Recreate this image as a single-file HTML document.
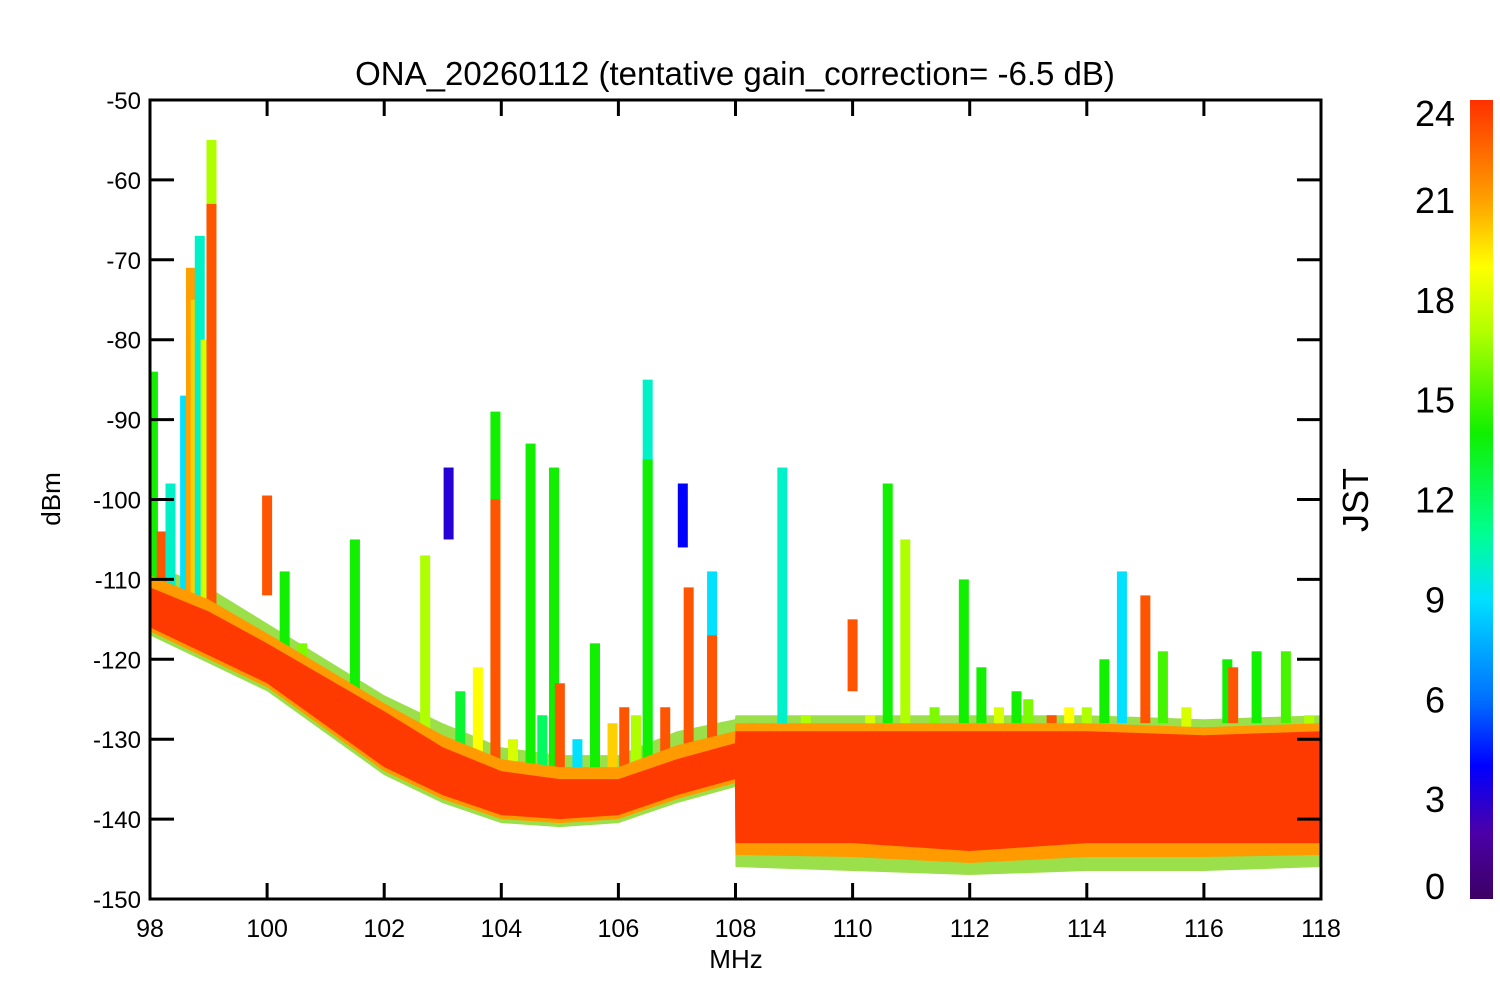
<!DOCTYPE html>
<html><head><meta charset="utf-8"><style>
html,body{margin:0;padding:0;background:#fff}
svg{display:block;font-family:"Liberation Sans",Arial,sans-serif}
</style></head><body>
<svg id="chart" width="1500" height="1000" xmlns="http://www.w3.org/2000/svg"></svg>
<script>
// ---- data ----
const xTicks=[98,100,102,104,106,108,110,112,114,116,118];
const yTicks=[-50,-60,-70,-80,-90,-100,-110,-120,-130,-140,-150];
const cbTicks=[0,3,6,9,12,15,18,21,24];
const bandFreq=[98,99,100,102,103,104,105,106,107,107.99,108,110,112,114,116,118];
const bandTop=[-111,-114,-118,-126.5,-131,-134,-135,-135,-132.5,-130.5,-129,-129,-129,-129,-129.5,-129];
const bandBottom=[-116,-119.5,-123,-133.5,-137,-139.5,-140,-139.5,-137,-135,-143,-143,-144,-143,-143,-143];
const fringeTop=[-108,-111,-115.5,-124.5,-128,-131,-132,-132,-129,-127.5,-127,-127,-127,-127,-127.5,-127];
const fringeBottom=[-117,-120.5,-124,-134.5,-138,-140.5,-141,-140.5,-138,-136,-146,-146.5,-147,-146.5,-146.5,-146];
const spikeFreq=[98.05,98.2,98.35,98.6,98.7,98.78,98.85,98.95,99.05,99.05,100.0,100.3,100.6,101.5,102.7,103.1,103.3,103.6,103.9,103.9,104.2,104.5,104.7,104.9,105.0,105.3,105.6,105.9,106.1,106.3,106.5,106.5,106.8,107.1,107.2,107.6,107.6,108.3,108.8,109.2,110.0,110.3,110.6,110.9,111.4,111.9,112.2,112.5,112.8,113.0,113.4,113.7,114.0,114.3,114.6,115.0,115.3,115.7,116.4,116.5,116.9,117.4,117.8];
const spikeTop=[-84,-104,-98,-87,-71,-75,-67,-80,-55,-63,-99.5,-109,-118,-105,-107,-96,-124,-121,-89,-100,-130,-93,-127,-96,-123,-130,-118,-128,-126,-127,-85,-95,-126,-98,-111,-109,-117,-128,-96,-127,-115,-127,-98,-105,-126,-110,-121,-126,-124,-125,-127,-126,-126,-120,-109,-112,-119,-126,-120,-121,-119,-119,-127];
const spikeBottom=[-112,-112,-115,-115,-116,-116,-115,-118,-118,-118,-112,-122,-125,-128,-130,-105,-131,-134,-134,-134,-135,-134,-136,-134,-137,-137,-137,-137,-137,-136,-136,-136,-136,-106,-133,-132,-132,-129,-128,-129,-124,-129,-128,-128,-129,-128,-128,-129,-128,-129,-128,-129,-129,-128,-128,-128,-128,-129,-128,-128,-128,-128,-129];
const spikeHour=[14,23,10,9,21,20,10,18,17,23,23,14,16,14,17,3,13,19,14,23,18,14,12,14,23,9,14,20,23,17,10,14,23,4,23,9,23,15,10,17,23,18,14,17,16,14,14,18,14,16,23,19,17,14,9,23,15,18,14,23,14,15,17];

// ---- axes ----
const X0=150,X1=1321,Y0=100,Y1=899;
const xs=f=>X0+(f-98)/20*(X1-X0);
const ys=v=>Y0+(-50-v)/100*(Y1-Y0);
const stops=[[0,[60,0,100]],[2,[75,0,168]],[4,[0,0,255]],[6,[0,112,255]],[9,[0,224,255]],[11,[0,255,144]],[14,[16,240,0]],[17,[176,255,0]],[19,[255,255,0]],[21,[255,160,0]],[24,[255,48,0]]];
function hourColor(h){for(let i=1;i<stops.length;i++){if(h<=stops[i][0]){const a=stops[i-1],b=stops[i],t=(h-a[0])/(b[0]-a[0]);const c=a[1].map((v,k)=>Math.round(v+(b[1][k]-v)*t));return `rgb(${c})`;}}return 'rgb(255,48,0)';}
const NS='http://www.w3.org/2000/svg';
const svg=document.getElementById('chart');
function mk(tag,attrs,parent){const e=document.createElementNS(NS,tag);for(const k in attrs)e.setAttribute(k,attrs[k]);(parent||svg).appendChild(e);return e;}

const defs=mk('defs',{});
const lg=mk('linearGradient',{id:'cb',x1:0,y1:1,x2:0,y2:0},defs);
stops.forEach(s=>mk('stop',{offset:(s[0]/24),'stop-color':hourColor(s[0])},lg));
const cp=mk('clipPath',{id:'clip'},defs);mk('rect',{x:X0,y:Y0,width:X1-X0,height:Y1-Y0},cp);

const plot=mk('g',{'clip-path':'url(#clip)'});



function bandPath(top,bot){let d='';bandFreq.forEach((f,i)=>{d+=(i?'L':'M')+xs(f)+','+ys(top[i]);});for(let i=bandFreq.length-1;i>=0;i--)d+='L'+xs(bandFreq[i])+','+ys(bot[i]);return d+'Z';}
const fr=mk('path',{d:bandPath(fringeTop,fringeBottom),fill:'#9be04a'},plot);



spikeFreq.forEach((f,i)=>{
  const x=xs(f),yt=ys(spikeTop[i]),yb=ys(spikeBottom[i]);
  const r=mk('rect',{x:x-5,y:yt,width:10,height:Math.max(1,yb-yt),fill:hourColor(spikeHour[i])},plot);
  
  
});

const fr2=mk('path',{d:bandPath(fringeTop.map((v,i)=>(v+bandTop[i])/2),fringeBottom.map((v,i)=>(v+bandBottom[i])/2)),fill:'#ff9a00'},plot);


const core=mk('path',{d:bandPath(bandTop,bandBottom),fill:'#ff3a00'},plot);



const frame=mk('rect',{x:X0,y:Y0,width:X1-X0,height:Y1-Y0,fill:'none',stroke:'#000','stroke-width':3});



xTicks.forEach(t=>{const x=xs(t);
  mk('line',{x1:x,y1:Y1,x2:x,y2:Y1-16,stroke:'#000','stroke-width':3});
  mk('line',{x1:x,y1:Y0,x2:x,y2:Y0+16,stroke:'#000','stroke-width':3});
  const tx=mk('text',{x:x,y:937,'font-size':25,'text-anchor':'middle'});tx.textContent=t;
  
  
});
yTicks.forEach(t=>{const y=ys(t);
  mk('line',{x1:X0,y1:y,x2:X0+24,y2:y,stroke:'#000','stroke-width':3});
  mk('line',{x1:X1,y1:y,x2:X1-24,y2:y,stroke:'#000','stroke-width':3});
  const tx=mk('text',{x:141,y:y+9,'font-size':24,'text-anchor':'end'});tx.textContent=t;
  
  
});
const title=mk('text',{x:735,y:85,'font-size':33,'text-anchor':'middle'});title.textContent='ONA_20260112 (tentative gain_correction= -6.5 dB)';


const xt=mk('text',{x:736,y:968,'font-size':26,'text-anchor':'middle'});xt.textContent='MHz';


const yt=mk('text',{x:0,y:0,'font-size':26,'text-anchor':'middle',transform:'translate(60,499) rotate(-90)'});yt.textContent='dBm';



const cb=mk('rect',{x:1470,y:Y0,width:23,height:Y1-Y0,fill:'url(#cb)'});


cbTicks.forEach(t=>{let y=Y1-t/24*(Y1-Y0)+13;y=Math.min(Math.max(y,126),899);
  const tx=mk('text',{x:1435,y:y,'font-size':36,'text-anchor':'middle'});tx.textContent=t;
  
  
});
const jt=mk('text',{x:0,y:0,'font-size':36,'text-anchor':'middle',transform:'translate(1368,500) rotate(-90)'});jt.textContent='JST';


</script>
</body></html>
